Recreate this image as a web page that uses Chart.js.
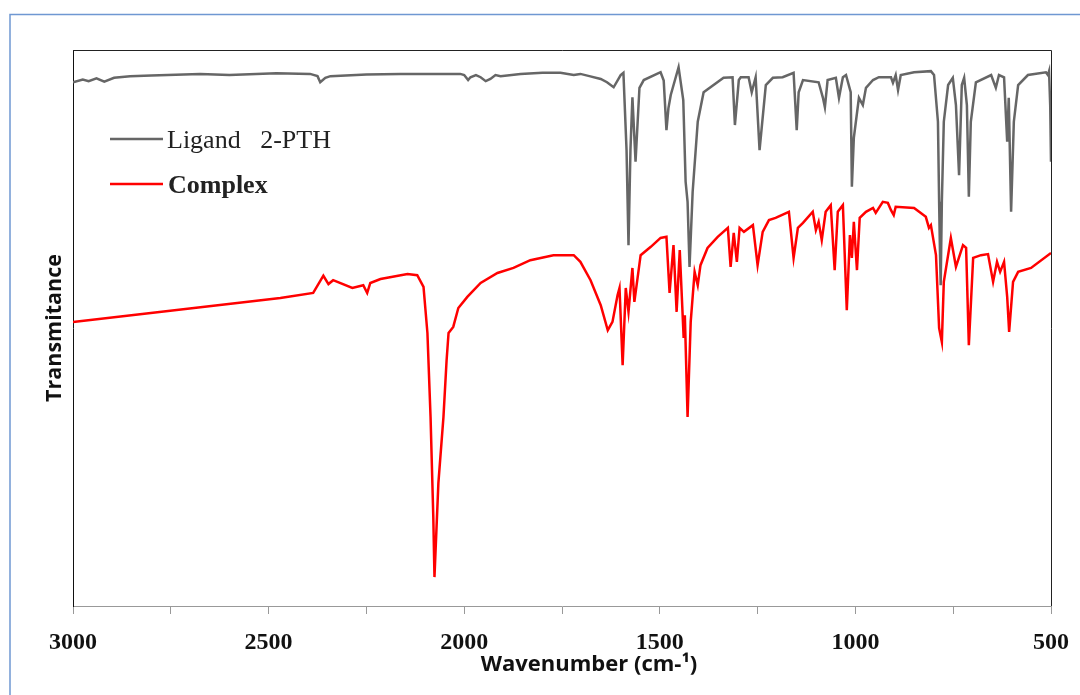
<!DOCTYPE html>
<html>
<head>
<meta charset="utf-8">
<title>IR spectra</title>
<script src="https://cdn.jsdelivr.net/npm/chart.js@4.4.1/dist/chart.umd.min.js"></script>
<style>
  body { margin: 0; background: #fff; }
  #wrap { width: 1080px; height: 695px; }
</style>
</head>
<body>
<div id="wrap"><canvas id="irChart" width="1080" height="695"></canvas></div>
<script>
// wavenumber (cm-1) and transmittance (arbitrary %)
var ligandWn = [3000,2975,2960,2940,2920,2895,2854,2800,2675,2600,2480,2394,2375,2368,2355,2342,2250,2163,2010,2000,1990,1984,1970,1958,1945,1933,
  1920,1907,1856,1800,1754,1720,1703,1680,1651,1635,1618,1600,1593,1585,1580,1575,1570,1562,1552,1541,
  1498,1490,1483,1478,1472,1452,1440,1434,1429,1424,1416,1403,1388,1337,1314,1308,1298,1293,1273,1265,
  1255,1245,1229,1211,1186,1158,1150,1145,1134,1094,1083,1078,1071,1050,1042,1032,1024,1012,1009,1004,
  991,981,973,955,940,922,909,904,897,891,884,850,807,799,789,786,784,782,779,774,
  763,751,743,735,728,722,715,710,705,692,653,641,633,620,612,608,602,595,584,559,
  513,508,505,502,500]
var ligandT = [94.2,94.7,94.4,94.9,94.3,95.0,95.3,95.4,95.7,95.5,95.8,95.7,95.3,94.2,95.0,95.3,95.6,95.7,95.7,95.5,94.6,95.1,95.5,95.1,94.4,94.8,
  95.5,95.3,95.7,95.9,95.9,95.5,95.7,95.3,94.8,94.2,93.3,95.5,95.9,82.0,64.9,82.0,91.5,79.9,93.2,94.6,
  96.0,94.5,85.6,89.5,91.9,96.9,91.0,76.3,72.7,61.0,74.5,87.1,92.4,95.0,95.1,86.5,94.6,95.1,95.1,92.4,
  95.1,82.0,93.7,95.0,95.1,95.9,85.6,92.4,94.6,94.2,91.4,89.7,94.6,95.0,91.4,95.1,95.5,92.4,75.4,84.2,
  91.4,90.1,93.2,94.6,95.1,95.1,95.1,94.1,95.5,92.8,95.5,96.0,96.2,95.5,87.1,72.7,64.4,57.7,72.7,87.1,
  93.7,95.0,90.1,77.5,93.7,95.0,90.1,73.6,87.1,94.2,95.5,93.2,95.5,95.1,83.5,91.4,70.9,87.1,93.7,95.5,
  96.0,95.5,96.2,90.0,79.9]

var complexWn = [3000,2470,2386,2360,2347,2335,2286,2258,2248,2240,2214,2145,2120,2104,2094,2086,2079,2076,2066,2053,
  2045,2040,2028,2015,1992,1958,1915,1874,1831,1772,1720,1703,1677,1651,1633,1621,1608,1603,1595,1587,
  1580,1570,1565,1549,1523,1498,1483,1475,1465,1457,1449,1439,1436,1429,1421,1411,1403,1396,1378,1352,
  1326,1319,1311,1303,1296,1285,1262,1250,1237,1221,1204,1170,1158,1147,1134,1109,1101,1094,1086,1076,
  1063,1053,1045,1032,1022,1014,1009,1004,996,989,973,955,948,930,917,909,902,897,850,820,
  812,807,794,786,779,774,756,743,725,717,710,699,679,661,648,638,630,620,612,607,
  597,584,551,500]
var complexT = [51.1,55.4,56.3,59.4,57.9,58.6,57.2,57.7,56.3,58.1,58.8,59.7,59.5,57.4,49.1,34.0,16.0,5.2,22.1,34.0,
  44.2,49.1,50.2,53.6,55.6,58.1,59.9,60.8,62.2,63.1,63.1,61.9,58.6,54.1,49.6,51.1,55.9,57.2,43.3,57.2,
  52.9,60.8,54.7,63.1,64.6,66.2,66.4,56.3,64.9,52.9,64.0,48.2,52.3,34.0,51.1,60.1,57.7,61.3,64.4,66.4,
  68.0,61.0,67.1,61.9,68.0,67.3,68.5,61.3,67.3,69.4,69.8,70.9,62.6,68.0,68.9,70.9,67.6,69.1,65.8,70.9,
  72.1,60.4,70.9,72.1,53.2,66.7,62.6,69.1,60.4,69.8,70.9,71.6,70.7,72.7,72.5,71.2,70.3,71.8,71.6,70.0,
  68.0,68.5,63.1,50.0,47.5,58.3,66.2,61.0,64.9,64.4,46.9,62.6,63.1,63.3,58.3,61.9,60.1,61.9,55.6,49.3,
  58.3,60.1,60.8,63.5]

var xTicks = [3000, 2500, 2000, 1500, 1000, 500]

function toPoints(xs, ys) {
  var pts = []
  for (var i = 0; i < xs.length; i++) pts.push({x: xs[i], y: ys[i]})
  return pts
}

var framePlugin = {
  id: 'frame',
  beforeDraw: function(chart) {
    var ctx = chart.ctx
    ctx.save()
    ctx.fillStyle = '#fff'
    ctx.fillRect(0, 0, chart.width, chart.height)
    ctx.strokeStyle = '#6f98d2'
    ctx.lineWidth = 1.5
    ctx.beginPath()
    ctx.moveTo(10, 695)
    ctx.lineTo(10, 14.5)
    ctx.lineTo(1080, 14.5)
    ctx.stroke()
    ctx.restore()
  },
  afterDraw: function(chart) {
    var ctx = chart.ctx, a = chart.chartArea
    ctx.save()
    ctx.strokeStyle = '#222'
    ctx.lineWidth = 1
    ctx.beginPath()
    ctx.moveTo(a.left, a.top + 0.5)
    ctx.lineTo(a.right + 0.5, a.top + 0.5)
    ctx.lineTo(a.right + 0.5, a.bottom)
    ctx.stroke()

    // legend inside the plot
    ctx.lineWidth = 2.5
    ctx.strokeStyle = '#666'
    ctx.beginPath(); ctx.moveTo(110, 139); ctx.lineTo(163, 139); ctx.stroke()
    ctx.strokeStyle = '#ff0000'
    ctx.beginPath(); ctx.moveTo(110, 184); ctx.lineTo(163, 184); ctx.stroke()
    ctx.fillStyle = '#222'
    ctx.textBaseline = 'alphabetic'
    ctx.font = '26px "Liberation Serif"'
    ctx.fillText('Ligand   2-PTH', 167, 148)
    ctx.font = 'bold 26px "Liberation Serif"'
    ctx.fillText('Complex', 168, 193)

    // x axis title sits a little right of centre in the original
    ctx.fillStyle = '#111'
    ctx.font = 'bold 22px "Open Sans"'
    ctx.textAlign = 'center'
    ctx.textBaseline = 'middle'
    ctx.fillText('Wavenumber (cm-¹)', 589, 665)
    ctx.restore()
  }
}

var chart = new Chart(document.getElementById('irChart'), {
  type: 'line',
  data: {
    datasets: [
      {
        label: 'Ligand   2-PTH',
        data: toPoints(ligandWn, ligandT),
        borderColor: '#666666',
        borderWidth: 2.5,
        pointRadius: 0,
        tension: 0
      },
      {
        label: 'Complex',
        data: toPoints(complexWn, complexT),
        borderColor: '#ff0000',
        borderWidth: 2.5,
        pointRadius: 0,
        tension: 0
      }
    ]
  },
  options: {
    responsive: false,
    animation: false,
    layout: { padding: { left: 0, top: 50, right: 29, bottom: 0 } },
    plugins: { legend: { display: false }, tooltip: { enabled: false } },
    scales: {
      x: {
        type: 'linear',
        reverse: true,
        min: 500,
        max: 3000,
        afterFit: function(s) { s.height = 89 },
        afterBuildTicks: function(s) {
          var t = []
          for (var v = 500; v <= 3000; v += 250) t.push({value: v})
          s.ticks = t
        },
        ticks: {
          autoSkip: false,
          maxRotation: 0,
          padding: 14,
          color: '#111',
          font: { family: '"Liberation Serif"', size: 24, weight: 'bold' },
          callback: function(v) { return xTicks.indexOf(v) >= 0 ? v : '' }
        },
        grid: { drawOnChartArea: false, drawTicks: true, tickLength: 8, color: '#999' },
        border: { color: '#999', width: 1 },
        title: { display: false }
      },
      y: {
        min: 0,
        max: 100,
        afterFit: function(s) { s.width = 73 },
        ticks: { display: false },
        grid: { display: false },
        border: { display: true, color: '#111', width: 1 },
        title: {
          display: true,
          text: 'Transmitance',
          color: '#111',
          font: { family: '"Open Sans"', size: 21.5, weight: 'bold' },
          padding: { top: 42, bottom: 0 }
        }
      }
    }
  },
  plugins: [framePlugin]
})
</script>
</body>
</html>
